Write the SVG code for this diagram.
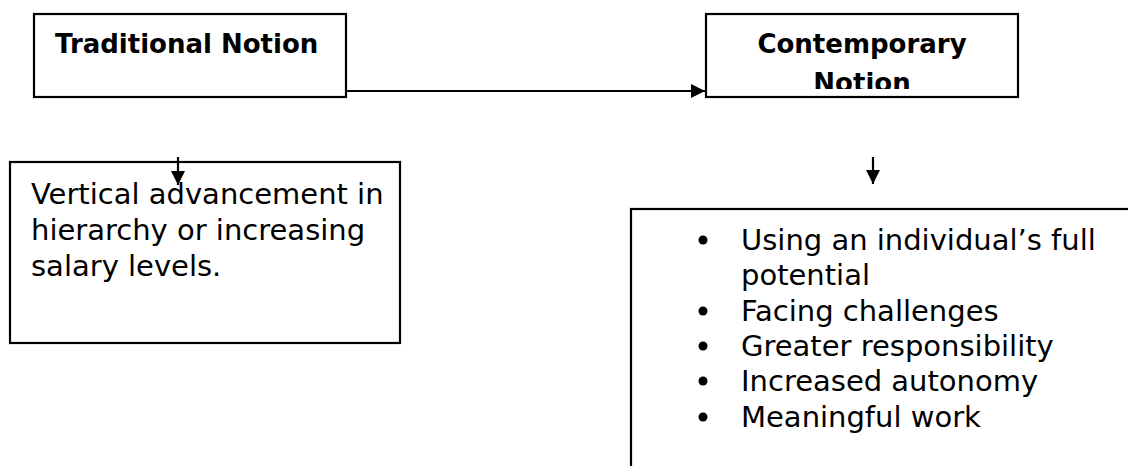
<svg xmlns="http://www.w3.org/2000/svg" width="1128" height="466" viewBox="0 0 1128 466">
<style>
.box{fill:#fff;stroke:#000;stroke-width:2.2}
.title{font-family:"DejaVu Sans",Verdana,sans-serif;font-weight:bold;font-size:26px;fill:#000}
.body{font-family:"DejaVu Sans",Verdana,sans-serif;font-size:29px;fill:#000}
.con{stroke:#000;stroke-width:2.2;fill:none}
</style>
<defs>
<marker id="ah" viewBox="0 0 10 10" refX="10" refY="5" markerWidth="14" markerHeight="14" markerUnits="userSpaceOnUse" orient="auto">
<path d="M0,0 L10,5 L0,10 Z" fill="#000"/>
</marker>
<clipPath id="clipC"><rect x="706" y="14" width="312" height="75"/></clipPath>
</defs>
<rect width="1128" height="466" fill="#fff"/>
<g id="traditional">
<rect class="box" x="34" y="14" width="312" height="83"/>
<text class="title" x="55" y="53">Traditional Notion</text>
</g>
<g id="contemporary">
<rect class="box" x="706" y="14" width="312" height="83"/>
<g clip-path="url(#clipC)">
<text class="title" x="862" y="53" text-anchor="middle">Contemporary</text>
<text class="title" x="862" y="92" text-anchor="middle">Notion</text>
</g>
</g>
<g id="vertical">
<rect class="box" x="10" y="162" width="390" height="181"/>
<text class="body" x="31" y="204">Vertical advancement in</text>
<text class="body" x="31" y="240">hierarchy or increasing</text>
<text class="body" x="31" y="276">salary levels.</text>
</g>
<g id="modern">
<rect class="box" x="631" y="209" width="520" height="280"/>
<g class="body">
<circle cx="703" cy="240" r="4.5"/><text x="741" y="250">Using an individual’s full</text>
<text x="741" y="285">potential</text>
<circle cx="703" cy="311" r="4.5"/><text x="741" y="321">Facing challenges</text>
<circle cx="703" cy="346" r="4.5"/><text x="741" y="356">Greater responsibility</text>
<circle cx="703" cy="381" r="4.5"/><text x="741" y="391">Increased autonomy</text>
<circle cx="703" cy="417" r="4.5"/><text x="741" y="427">Meaningful work</text>
</g>
</g>
<g id="connectors">
<line class="con" x1="346" y1="91" x2="705" y2="91" marker-end="url(#ah)"/>
<line class="con" x1="178" y1="157" x2="178" y2="185" marker-end="url(#ah)"/>
<line class="con" x1="873" y1="157" x2="873" y2="184" marker-end="url(#ah)"/>
</g>
</svg>
